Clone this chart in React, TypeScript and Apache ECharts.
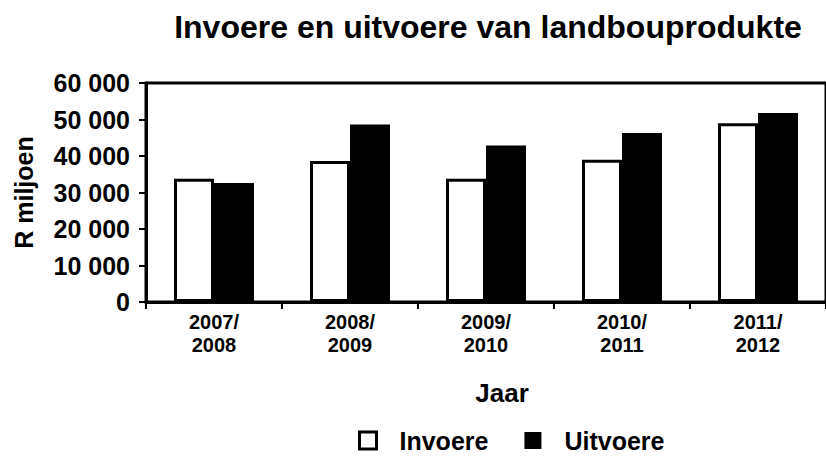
import React, { useEffect, useRef } from "react";
import * as echarts from "echarts";

const categories = ["2007/\n2008", "2008/\n2009", "2009/\n2010", "2010/\n2011", "2011/\n2012"];
const invoere = [33800, 38600, 33800, 39000, 49000];
const uitvoere = [32600, 48600, 42900, 46300, 51800];
const yTicks = { min: 0, max: 60000, interval: 10000 };

const FONT = "'Liberation Sans', Arial, sans-serif";

export default function App() {
  const ref = useRef<HTMLDivElement>(null);
  useEffect(() => {
    if (!ref.current) return;
    const chart = echarts.init(ref.current, undefined, { renderer: "svg" });
    chart.setOption({
      animation: false,
      backgroundColor: "#fff",
      textStyle: { fontFamily: FONT },
      title: [
        {
          text: "Invoere en uitvoere van landbouprodukte",
          left: 488,
          textAlign: "center",
          top: 11,
          padding: 0,
          textStyle: { fontFamily: FONT, fontWeight: "bold", fontSize: 32, color: "#000" },
        },
        {
          text: "Jaar",
          left: 502,
          textAlign: "center",
          top: 380,
          padding: 0,
          textStyle: { fontFamily: FONT, fontWeight: "bold", fontSize: 26, color: "#000" },
        },
      ],
      legend: {
        left: 358,
        top: 428,
        padding: 0,
        itemWidth: 17,
        itemHeight: 17,
        itemGap: 36,
        textStyle: {
          fontFamily: FONT,
          fontWeight: "bold",
          fontSize: 25,
          color: "#000",
          padding: [0, 0, 0, 18],
        },
        data: [
          { name: "Invoere", icon: "rect", itemStyle: { color: "#fff", borderColor: "#000", borderWidth: 3 } },
          { name: "Uitvoere", icon: "rect", itemStyle: { color: "#000", borderColor: "#000", borderWidth: 0 } },
        ],
      },
      grid: {
        left: 146,
        top: 83,
        height: 219,
        right: -10,
        show: true,
        borderColor: "#000",
        borderWidth: 3,
        backgroundColor: "transparent",
      },
      xAxis: {
        type: "category",
        data: categories,
        axisLine: { lineStyle: { color: "#000", width: 3 } },
        axisTick: { show: true, length: 7, lineStyle: { color: "#000", width: 2 } },
        axisLabel: {
          color: "#000",
          fontFamily: FONT,
          fontWeight: "bold",
          fontSize: 20,
          lineHeight: 23,
          margin: 8,
        },
      },
      yAxis: {
        type: "value",
        min: yTicks.min,
        max: yTicks.max,
        interval: yTicks.interval,
        name: "R miljoen",
        nameLocation: "middle",
        nameGap: 110,
        nameRotate: 90,
        nameTextStyle: { fontFamily: FONT, fontWeight: "bold", fontSize: 25, color: "#000" },
        axisLine: { show: true, lineStyle: { color: "#000", width: 3 } },
        axisTick: { show: true, length: 7, lineStyle: { color: "#000", width: 2 } },
        splitLine: { show: false },
        axisLabel: {
          color: "#000",
          fontFamily: FONT,
          fontWeight: "bold",
          fontSize: 25,
          margin: 16,
          formatter: (v: number) => String(v).replace(/\B(?=(\d{3})+(?!\d))/g, " "),
        },
      },
      series: [
        {
          name: "Invoere",
          type: "bar",
          data: invoere,
          barWidth: 40,
          barGap: "0%",
          itemStyle: { color: "#fff", borderColor: "#000", borderWidth: 3 },
        },
        {
          name: "Uitvoere",
          type: "bar",
          data: uitvoere,
          barWidth: 40,
          barGap: "0%",
          itemStyle: { color: "#000", borderColor: "#000", borderWidth: 0 },
        },
      ],
    });
    return () => chart.dispose();
  }, []);
  return (
    <div
      ref={ref}
      style={{ position: "absolute", left: 0, top: 0, width: 826, height: 457 }}
    />
  );
}
